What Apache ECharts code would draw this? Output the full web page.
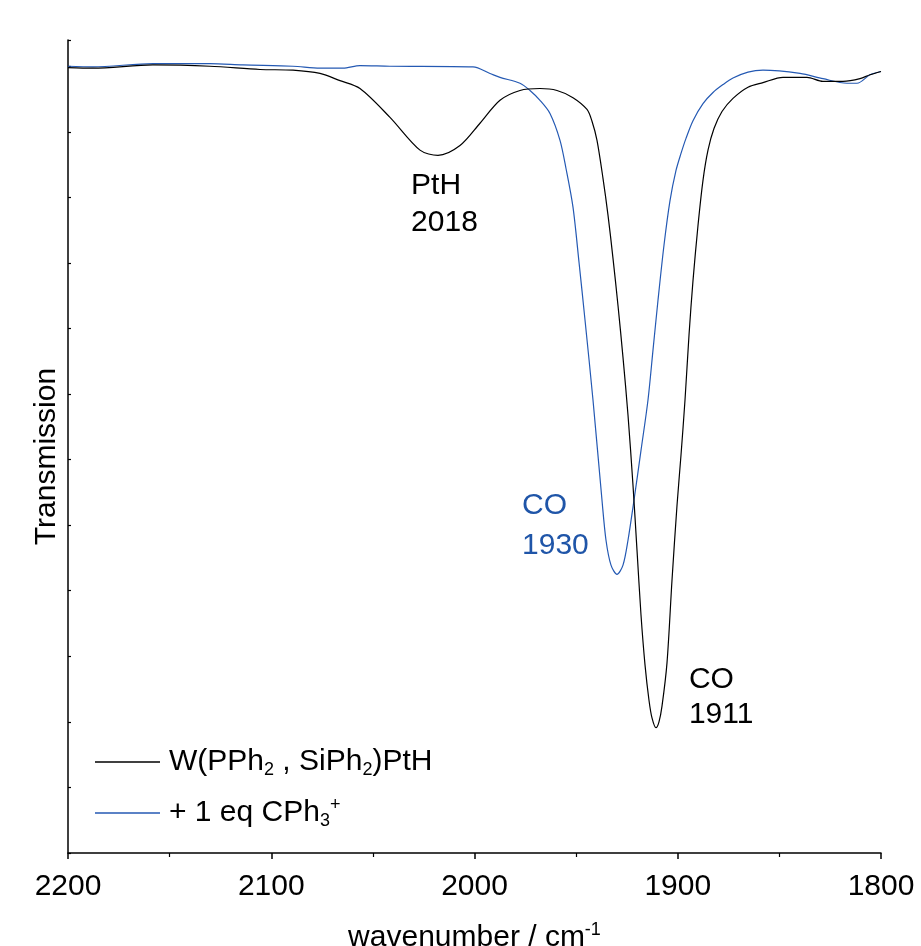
<!DOCTYPE html>
<html>
<head>
<meta charset="utf-8">
<script src="https://cdn.jsdelivr.net/npm/echarts@6/dist/echarts.min.js"></script>
<style>
html,body{margin:0;padding:0;background:#fff;overflow:hidden;}
#chart{width:921px;height:946px;}
</style>
</head>
<body>
<div id="chart"></div>
<script>
// Wavenumbers (cm-1) and transmission (arbitrary units)
var wnBlack = [2200, 2187.70, 2158.18, 2130.14, 2105.54, 2089.30, 2076.02, 2066.18, 2056.34, 2041.58, 2026.82, 2017.96, 2007.14, 1997.30, 1987.46, 1977.62, 1967.78, 1959.41, 1951.54, 1944.65, 1942.19, 1939.73, 1936.78, 1934.32, 1931.86, 1929.40, 1926.94, 1924.48, 1922.02, 1920.05, 1918.08, 1916.11, 1914.15, 1912.67, 1910.70, 1909.23, 1907.75, 1905.29, 1902.83, 1900.37, 1898.40, 1896.43, 1894.46, 1892.50, 1890.04, 1887.58, 1885.12, 1882.17, 1878.23, 1872.82, 1865.44, 1858.06, 1848.22, 1836.41, 1828.54, 1818.70, 1810.33, 1805.41, 1800];
var tBlack = [11.98, 11.97, 12.02, 12.00, 11.95, 11.94, 11.89, 11.78, 11.66, 11.22, 10.72, 10.64, 10.79, 11.13, 11.48, 11.63, 11.66, 11.63, 11.52, 11.34, 11.16, 10.87, 10.29, 9.73, 9.07, 8.35, 7.56, 6.68, 5.61, 4.62, 3.63, 2.87, 2.33, 2.06, 1.91, 2.00, 2.24, 2.90, 4.16, 5.30, 6.07, 6.91, 7.90, 8.73, 9.57, 10.26, 10.72, 11.05, 11.31, 11.51, 11.68, 11.75, 11.83, 11.83, 11.77, 11.77, 11.81, 11.87, 11.92];

var wnBlue = [2200, 2187.70, 2158.18, 2130.14, 2113.90, 2089.30, 2076.02, 2064.70, 2056.34, 2041.58, 2000.74, 1992.37, 1987.46, 1977.62, 1972.70, 1967.78, 1962.86, 1957.93, 1954.98, 1951.54, 1948.58, 1945.63, 1941.70, 1937.27, 1935.30, 1932.84, 1929.89, 1926.94, 1924.48, 1921.53, 1918.08, 1914.64, 1912.18, 1909.72, 1906.77, 1903.81, 1900.86, 1898.40, 1895.94, 1892.50, 1887.58, 1882.66, 1877.74, 1872.82, 1865.44, 1858.06, 1839.85, 1828.54, 1816.73, 1811.81, 1805.41, 1800];
var tBlue = [12.00, 11.99, 12.04, 12.04, 12.02, 12.00, 11.97, 11.97, 12.01, 12.00, 11.99, 11.89, 11.83, 11.74, 11.63, 11.48, 11.28, 10.87, 10.44, 9.85, 9.01, 8.13, 6.91, 5.38, 4.77, 4.39, 4.25, 4.39, 4.77, 5.38, 6.14, 6.91, 7.67, 8.43, 9.27, 9.95, 10.41, 10.67, 10.90, 11.17, 11.43, 11.60, 11.72, 11.82, 11.91, 11.94, 11.89, 11.81, 11.74, 11.74, 11.87, 11.92];

var seriesNames = ['W(PPh2 , SiPh2)PtH', '+ 1 eq CPh3+'];
var legendRich = ['W(PPh{sub|2} , SiPh{sub|2})PtH', '+ 1 eq CPh{sub|3}{sup|+}'];

var xTicks = [2200, 2100, 2000, 1900, 1800];

// annotations: wavenumber at text left, value at first line centre, text
var annWn = [2031.2, 1976.6, 1894.5];
var annT = [10.18, 5.30, 2.65];
var annText = ['PtH\n2018', 'CO\n1930', 'CO\n1911'];
var annLineH = [37, 40, 35];

var BLACK = '#000000';
var BLUE = '#2459b3';
var BLUE_TEXT = '#1f55a8';
var annColor = [BLACK, BLUE_TEXT, BLACK];
var FONT = '"Liberation Sans", Arial, Helvetica, sans-serif';

function zip(a, b) { return a.map(function (v, i) { return [v, b[i]]; }); }

var chart = echarts.init(document.getElementById('chart'));
var option = {
  animation: false,
  backgroundColor: '#ffffff',
  grid: { left: 68, right: 40, top: 40, bottom: 93, containLabel: false, outerBoundsMode: 'none' },
  legend: {
    orient: 'vertical',
    left: 95,
    top: 745,
    padding: 0,
    itemGap: 17,
    itemWidth: 65,
    itemHeight: 1.3,
    icon: 'rect',
    data: seriesNames,
    formatter: function (name) { return legendRich[seriesNames.indexOf(name)]; },
    textStyle: {
      fontFamily: FONT, fontSize: 30, color: '#000', lineHeight: 34,
      padding: [0, 0, 0, 4],
      rich: {
        sub: { fontFamily: FONT, fontSize: 18, color: '#000', lineHeight: 10, verticalAlign: 'bottom' },
        sup: { fontFamily: FONT, fontSize: 18, color: '#000', lineHeight: 14, verticalAlign: 'top' }
      }
    }
  },
  xAxis: {
    type: 'value',
    min: 1800, max: 2200, interval: 100,
    inverse: true,
    name: 'wavenumber / cm{sup|-1}',
    nameLocation: 'middle',
    nameGap: 68,
    nameTextStyle: {
      fontFamily: FONT, fontSize: 30, color: '#000', lineHeight: 34,
      rich: { sup: { fontFamily: FONT, fontSize: 18, color: '#000', lineHeight: 14, verticalAlign: 'top' } }
    },
    axisLine: { show: true, lineStyle: { color: '#000', width: 1.5 } },
    axisTick: { show: true, inside: false, length: 6, lineStyle: { color: '#000', width: 1.5 } },
    minorTick: { show: true, splitNumber: 2, length: 4, lineStyle: { color: '#000', width: 1.2 } },
    axisLabel: {
      fontFamily: FONT, fontSize: 30, color: '#000', margin: 19,
      showMinLabel: true, showMaxLabel: true,
      formatter: function (v) { return xTicks.indexOf(v) >= 0 ? String(v) : ''; }
    },
    splitLine: { show: false }
  },
  yAxis: {
    type: 'value',
    min: 0, max: 12.4, interval: 1,
    name: 'Transmission',
    nameLocation: 'middle',
    nameGap: 6,
    nameTextStyle: { fontFamily: FONT, fontSize: 30, color: '#000', padding: [0, 20, 0, 0] },
    axisLine: { show: true, lineStyle: { color: '#000', width: 1.5 } },
    axisTick: { show: true, inside: true, length: 3, lineStyle: { color: '#000', width: 1.2 } },
    axisLabel: { show: false },
    splitLine: { show: false }
  },
  series: [
    {
      name: seriesNames[0], type: 'line', data: zip(wnBlack, tBlack),
      showSymbol: false, symbol: 'none', smooth: 0.3,
      lineStyle: { color: BLACK, width: 1.2 }, itemStyle: { color: BLACK }, z: 3
    },
    {
      name: seriesNames[1], type: 'line', data: zip(wnBlue, tBlue),
      showSymbol: false, symbol: 'none', smooth: 0.3,
      lineStyle: { color: BLUE, width: 1.2 }, itemStyle: { color: BLUE }, z: 2
    }
  ]
};
chart.setOption(option);

var graphics = annText.map(function (txt, i) {
  var p = chart.convertToPixel({ gridIndex: 0 }, [annWn[i], annT[i]]);
  return {
    type: 'text',
    left: p[0],
    top: p[1] - annLineH[i] / 2,
    style: {
      text: txt, fill: annColor[i], font: '30px ' + FONT,
      lineHeight: annLineH[i], align: 'left'
    },
    z: 10
  };
});
chart.setOption({ graphic: graphics });
</script>
</body>
</html>
